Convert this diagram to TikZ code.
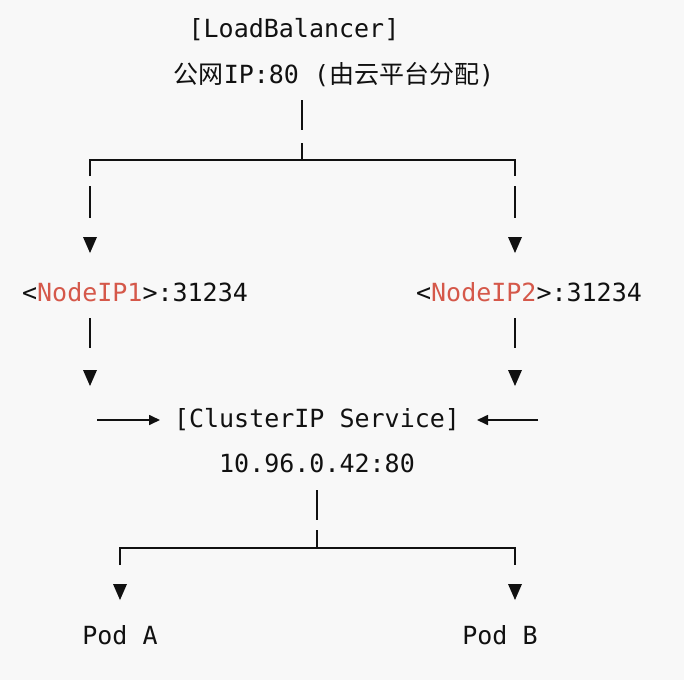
\documentclass[tikz,border=0pt]{standalone}
\usepackage{fontspec}
\setmainfont{DejaVu Sans Mono}
\newfontfamily\cjk{Noto Sans CJK SC}
\usetikzlibrary{arrows.meta,calc}
\definecolor{bg}{HTML}{F8F8F8}
\definecolor{ipred}{HTML}{D5584A}
\definecolor{ink}{HTML}{111111}
\tikzset{
  lbl/.style={font=\fontsize{25}{28}\selectfont, text=ink, inner sep=0pt, anchor=center},
  seg/.style={draw=ink, line width=1.7pt},
  tri/.style={fill=ink},
  harrow/.style={draw=ink, line width=1.7pt, -{Triangle[length=11pt,width=10pt]}}
}
\newcommand{\downtri}[1]{\fill[tri] ($(#1)+(-7,-8)$) -- ($(#1)+(7,-8)$) -- ($(#1)+(0,8)$) -- cycle;}
\begin{document}
\begin{tikzpicture}[x=1pt,y=-1pt]
\fill[bg] (0,0) rectangle (684,680);
\useasboundingbox (0,0) rectangle (684,680);

\node[lbl] (lb) at (294,30) {[LoadBalancer]};
\node[lbl] (pub) at (334,75) {{\cjk 公网}IP:80 ({\cjk 由云平台分配})};

\coordinate (a1) at (302,100);
\coordinate (a2) at (302,130);
\coordinate (a3) at (302,143);
\coordinate (j1) at (302,160);
\coordinate (l1) at (90,160);
\coordinate (r1) at (515,160);
\draw[seg] (a1) -- (a2);
\draw[seg] (a3) -- (j1);
\draw[seg] ($(l1)+(0,16)$) -- (l1) -- (r1) -- ($(r1)+(0,16)$);
\draw[seg] (90,186) -- (90,218);
\draw[seg] (515,186) -- (515,218);
\coordinate (t1) at (90,245);
\coordinate (t2) at (515,245);
\downtri{t1}\downtri{t2}

\node[lbl] (n1) at (135,292) {<\textcolor{ipred}{NodeIP1}>:31234};
\node[lbl] (n2) at (529,292) {<\textcolor{ipred}{NodeIP2}>:31234};

\draw[seg] (90,318) -- (90,348);
\draw[seg] (515,318) -- (515,348);
\coordinate (t3) at (90,378);
\coordinate (t4) at (515,378);
\downtri{t3}\downtri{t4}

\node[lbl] (cs) at (317,420) {[ClusterIP Service]};
\coordinate (h1) at (97,420);
\coordinate (h1e) at (160,420);
\coordinate (h2) at (538,420);
\coordinate (h2e) at (477,420);
\draw[harrow] (h1) -- (h1e);
\draw[harrow] (h2) -- (h2e);
\node[lbl] (cip) at (317,463) {10.96.0.42:80};

\coordinate (b1) at (317,490);
\coordinate (b2) at (317,520);
\coordinate (b3) at (317,530);
\coordinate (j2) at (317,548);
\coordinate (l2) at (120,548);
\coordinate (r2) at (515,548);
\draw[seg] (b1) -- (b2);
\draw[seg] (b3) -- (j2);
\draw[seg] ($(l2)+(0,17)$) -- (l2) -- (r2) -- ($(r2)+(0,17)$);
\coordinate (t5) at (120,592);
\coordinate (t6) at (515,592);
\downtri{t5}\downtri{t6}

\node[lbl] (pa) at (120,635) {Pod A};
\node[lbl] (pb) at (500,635) {Pod B};
\end{tikzpicture}
\end{document}
